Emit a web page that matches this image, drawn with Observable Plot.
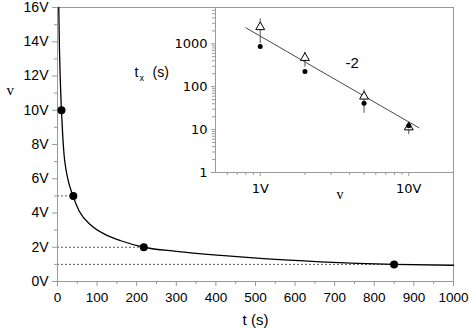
<!DOCTYPE html>
<html><head><meta charset="utf-8">
<script src="https://cdn.jsdelivr.net/npm/d3@7"></script>
<script src="https://cdn.jsdelivr.net/npm/@observablehq/plot@0.6"></script>
<style>
body{margin:0;background:#fff;}
#chart{position:relative;width:469px;height:330px;overflow:hidden;background:#fff;}
#chart svg{position:absolute;top:0;}
</style></head><body><div id="chart"></div>
<script>
// ---- main chart data ----
const pointT = [10, 40, 218, 850];
const pointV = [10, 5, 2, 1];
const guideIdx = [1, 2, 3]; // points with dotted guide lines
const curveT = [3.2, 5, 7, 10, 13, 17, 21, 28, 39, 55, 84, 120, 160, 218, 300, 412, 520, 664, 850, 1000];
const curveV = [16, 13.5, 11.8, 10, 8.6, 7.3, 6.6, 5.8, 5.0, 4.1, 3.3, 2.75, 2.38, 2.0, 1.76, 1.52, 1.33, 1.15, 1.0, 0.95];
const xTicks = [0, 100, 200, 300, 400, 500, 600, 700, 800, 900, 1000];
const xMinor = [50, 150, 250, 350, 450, 550, 650, 750, 850, 950];
const yTicks = [0, 2, 4, 6, 8, 10, 12, 14, 16];
const yMinor = [1, 3, 5, 7, 9, 11, 13, 15];

// ---- inset data ----
const insetV = [1, 2, 5, 10];
const circleT = [865, 225, 41, 12.3];
const triT = [2450, 470, 59, 11.3];
const errLo = [1000, 285, 24, 7.6];
const errHi = [3800, 640, 84, 14.7];
const fitV = [0.8, 11.7];
const fitT = [2360, 11];
const insetXTicks = [1, 10];
const insetXMinor = [0.6, 0.7, 0.8, 0.9, 2, 3, 4, 5, 6, 7, 8, 9, 20];
const insetYTicks = [1, 10, 100, 1000];
const insetYMinor = [2,3,4,5,6,7,8,9,20,30,40,50,60,70,80,90,200,300,400,500,600,700,800,900,2000,3000,4000,5000,6000,7000];

const gray = "#9a9a9a";
const sans = "'Liberation Sans', Arial, sans-serif";
const serif = "'Liberation Serif', 'Times New Roman', serif";

const points = pointT.map((t, i) => ({t, v: pointV[i]}));
const guides = guideIdx.map(i => points[i]);
const curve = curveT.map((t, i) => ({t, v: curveV[i]}));

const main = Plot.plot({
  width: 469, height: 330,
  marginLeft: 57, marginRight: 16, marginTop: 7, marginBottom: 49,
  style: {fontFamily: sans, background: "transparent"},
  x: {domain: [0, 1000]},
  y: {domain: [0, 16]},
  marks: [
    Plot.ruleY(guides, {y: "v", x1: () => 0, x2: "t", stroke: "#444", strokeWidth: 0.9, strokeDasharray: "2,2"}),
    Plot.frame({stroke: gray}),
    Plot.axisX(xMinor, {tickSize: 3, tickFormat: () => "", stroke: gray, label: null}),
    Plot.axisX(xTicks, {tickSize: 5, tickPadding: 6, tickFormat: d => String(d), stroke: gray, fill: "black", fontSize: 13.5, fontFamily: sans, label: null}),
    Plot.axisY(yMinor, {tickSize: 3, tickFormat: () => "", stroke: gray, label: null}),
    Plot.axisY(yTicks, {tickSize: 5, tickPadding: 4, tickFormat: d => d + "V", stroke: gray, fill: "black", fontSize: 14, fontFamily: sans, label: null}),
    Plot.line(curve, {x: "t", y: "v", curve: "monotone-x", stroke: "black", strokeWidth: 1.3}),
    Plot.dot(points, {x: "t", y: "v", r: 4, fill: "black"}),
    Plot.text(["t (s)"], {text: d => d, frameAnchor: "bottom", dy: 38.7, lineAnchor: "middle", fontSize: 15, fontFamily: sans, fill: "black"}),
    Plot.text(["v"], {text: d => d, frameAnchor: "top-left", dx: -51, dy: 83, lineAnchor: "middle", fontSize: 15, fontFamily: serif, fill: "black"})
  ]
});
main.style.left = "0px";

const tri = insetV.map((v, i) => ({v, t: triT[i], lo: errLo[i], hi: errHi[i]}));
const circ = insetV.map((v, i) => ({v, t: circleT[i]}));
const fit = fitV.map((v, i) => ({v, t: fitT[i]}));

const inset = Plot.plot({
  width: 349, height: 210,
  marginLeft: 95, marginRight: 16, marginTop: 7, marginBottom: 38,
  style: {fontFamily: sans, background: "transparent", overflow: "visible"},
  x: {type: "log", domain: [0.5, 20]},
  y: {type: "log", domain: [1, 7000]},
  marks: [
    Plot.ruleX([0.5], {stroke: gray}),
    Plot.ruleY([1], {stroke: gray}),
    Plot.axisX(insetXMinor, {tickSize: 3, tickFormat: () => "", stroke: gray, label: null}),
    Plot.axisX(insetXTicks, {tickSize: 4, tickPadding: 7, tickFormat: d => d + "V", stroke: gray, fill: "black", fontSize: 13, fontFamily: "'DejaVu Sans', sans-serif", label: null}),
    Plot.axisY(insetYMinor, {tickSize: 3, tickFormat: () => "", stroke: gray, label: null}),
    Plot.axisY(insetYTicks, {tickSize: 4, tickPadding: 4, tickFormat: d => String(d), stroke: gray, fill: "black", fontSize: 13, fontFamily: "'DejaVu Sans', sans-serif", label: null}),
    Plot.line(fit, {x: "v", y: "t", stroke: "#333", strokeWidth: 0.9}),
    Plot.ruleX(tri, {x: "v", y1: "lo", y2: "hi", stroke: "#555", strokeWidth: 1}),
    Plot.dot(tri, {x: "v", y: "t", symbol: "triangle", r: 3.3, fill: "white", stroke: "black", strokeWidth: 1}),
    Plot.dot(circ, {x: "v", y: "t", r: 2.5, fill: "black"}),
    Plot.text(["-2"], {text: d => d, frameAnchor: "top-left", dx: 130, dy: 55.2, lineAnchor: "middle", fontSize: 15, fontFamily: sans, fill: "black"}),
    Plot.text(["v"], {text: d => d, frameAnchor: "bottom-left", dx: 121, dy: 21.8, lineAnchor: "middle", fontSize: 14, fontFamily: serif, fill: "black"}),
    Plot.text(["t"], {text: d => d, frameAnchor: "top-left", dx: -81, dy: 65, textAnchor: "start", lineAnchor: "middle", fontSize: 14, fontFamily: sans, fill: "black"}),
    Plot.text(["x"], {text: d => d, frameAnchor: "top-left", dx: -76, dy: 71, textAnchor: "start", lineAnchor: "middle", fontSize: 9, fontFamily: sans, fill: "black"}),
    Plot.text(["(s)"], {text: d => d, frameAnchor: "top-left", dx: -63, dy: 65, textAnchor: "start", lineAnchor: "middle", fontSize: 14, fontFamily: sans, fill: "black"})
  ]
});
inset.style.left = "120px";

const root = document.getElementById("chart");
root.appendChild(main);
root.appendChild(inset);
</script></body></html>
